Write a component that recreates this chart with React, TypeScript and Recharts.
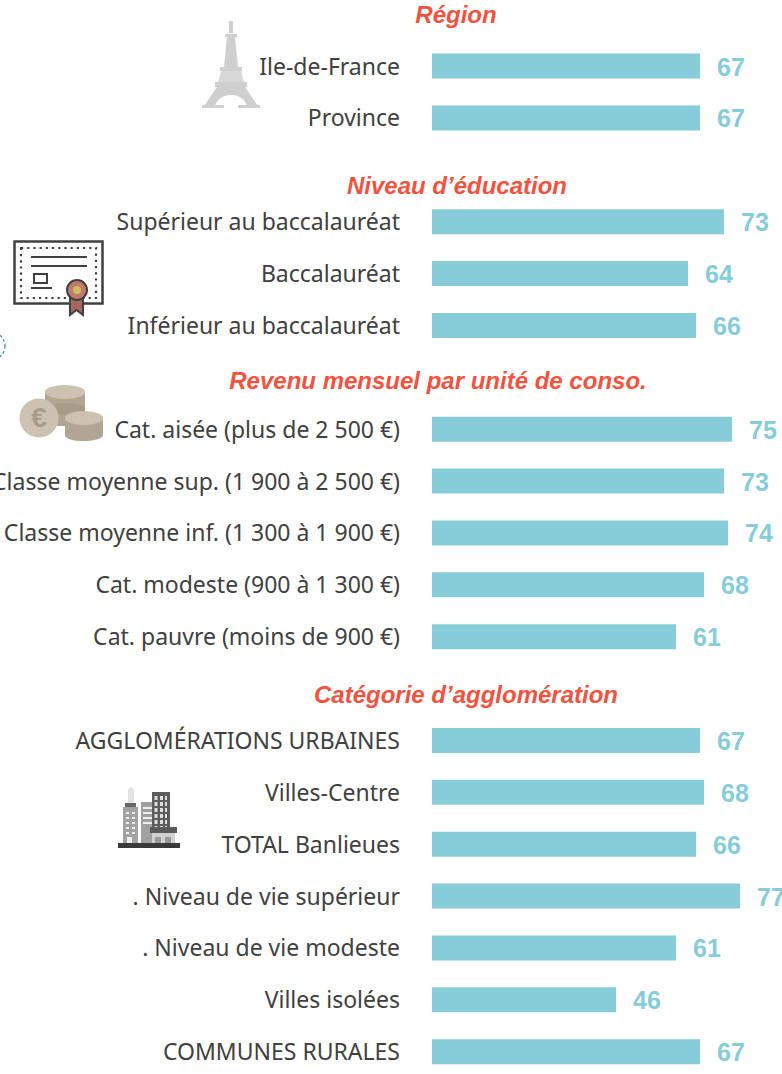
import React from 'react';
import { BarChart, Bar, XAxis, YAxis, LabelList } from 'recharts';

const categories = [
  'Ile-de-France', 'Province', ' ',
  'Supérieur au baccalauréat', 'Baccalauréat', 'Inférieur au baccalauréat', '  ',
  'Cat. aisée (plus de 2 500 €)', 'Classe moyenne sup. (1 900 à 2 500 €)', 'Classe moyenne inf. (1 300 à 1 900 €)', 'Cat. modeste (900 à 1 300 €)', 'Cat. pauvre (moins de 900 €)', '   ',
  'AGGLOMÉRATIONS URBAINES', 'Villes-Centre', 'TOTAL Banlieues', '. Niveau de vie supérieur', '. Niveau de vie modeste', 'Villes isolées', 'COMMUNES RURALES',
];
const values: (number | null)[] = [
  67, 67, null,
  73, 64, 66, null,
  75, 73, 74, 68, 61, null,
  67, 68, 66, 77, 61, 46, 67,
];
const sectionTitles = ['Région', 'Niveau d’éducation', 'Revenu mensuel par unité de conso.', 'Catégorie d’agglomération'];
const titleCenters = [456, 457, 438, 466];
const titleTops = [15, 186, 381, 695];

const rows = categories.map((name, i) => ({ name, value: values[i] }));

const BAR = '#87CCD9';

function ValueLabel(props: any) {
  const { x, y, width, height, value } = props;
  if (value === null || value === undefined) return null;
  return (
    <text x={x + width + 17} y={y + height / 2 + 9.5} fill={BAR} fontFamily="Liberation Sans" fontWeight={700} fontSize={25}>
      {value}
    </text>
  );
}

function Eiffel() {
  return (
    <svg style={{ position: 'absolute', left: 200, top: 18, width: 62, height: 92 }} viewBox="0 0 62 92">
      <g fill="#CFCFCF">
        <rect x="29" y="3" width="4" height="12" />
        <rect x="25" y="16" width="12" height="3" />
        <path d="M27 19 h8 l3 30 h-14 z" />
        <rect x="20" y="49" width="22" height="4" />
        <path d="M21 53 h20 l3 12 h-26 z" fill="#D8D8D8" />
        <rect x="15" y="64" width="32" height="5" />
        <path d="M17 69 h28 l13 19 h-11 c-2 -7 -8 -11 -16 -11 c-8 0 -14 4 -16 11 h-11 z" />
        <rect x="2" y="87" width="22" height="3" />
        <rect x="38" y="87" width="22" height="3" />
      </g>
    </svg>
  );
}

function Diploma() {
  return (
    <svg style={{ position: 'absolute', left: 12, top: 238, width: 94, height: 80 }} viewBox="0 0 94 80">
      <rect x="2.5" y="3.5" width="88" height="62" fill="#fff" stroke="#404040" strokeWidth={2.5} />
      <rect x="9" y="10" width="75" height="50" fill="none" stroke="#404040" strokeWidth={2.2} strokeDasharray="2.2 4" />
      <rect x="19" y="18" width="56" height="2" fill="#404040" />
      <rect x="19" y="27" width="56" height="2" fill="#404040" />
      <rect x="22" y="36" width="13" height="9" fill="#fff" stroke="#404040" strokeWidth={2} />
      <rect x="19" y="49" width="21" height="2" fill="#404040" />
      <path d="M58 52 h13 v25 l-6.5 -5 l-6.5 5 z" fill="#A6675E" stroke="#404040" strokeWidth={2} />
      <circle cx="65" cy="52" r="10" fill="#C07A6C" stroke="#404040" strokeWidth={2} />
      <circle cx="65" cy="52" r="4" fill="#D2BC63" />
    </svg>
  );
}

function Coins() {
  return (
    <svg style={{ position: 'absolute', left: 18, top: 382, width: 86, height: 60 }} viewBox="0 0 86 60">
      <path d="M27 10 v34 h40 v-34 z" fill="#B1A594" />
      <ellipse cx="47" cy="27" rx="20" ry="6" fill="#A89B89" />
      <ellipse cx="47" cy="10" rx="20" ry="7" fill="#CDC2B1" />
      <path d="M47 36 v17 c0 4 9 6 18 6 s20 -2 20 -6 v-17 z" fill="#B1A594" />
      <ellipse cx="66" cy="36" rx="19" ry="7" fill="#CDC2B1" />
      <circle cx="21" cy="36" r="19.5" fill="#CDC2B1" />
      <text x="21" y="45" textAnchor="middle" fontFamily="Liberation Sans" fontWeight={700} fontSize={28} fill="#A89B89">€</text>
    </svg>
  );
}

function Buildings() {
  return (
    <svg style={{ position: 'absolute', left: 116, top: 780, width: 66, height: 68 }} viewBox="0 0 66 68">
      <path d="M12 10 q3 -6 6 0 v14 h-6 z" fill="#E2E2E2" />
      <rect x="9" y="23" width="11" height="4" fill="#666" />
      <rect x="7" y="27" width="15" height="39" fill="#A2A2A2" />
      <rect x="25" y="22" width="17" height="44" fill="#A0A0A0" />
      <rect x="27" y="27" width="11" height="2" fill="#EEE" />
      <rect x="27" y="32" width="11" height="2" fill="#EEE" />
      <rect x="27" y="37" width="11" height="2" fill="#EEE" />
      <rect x="27" y="42" width="11" height="2" fill="#EEE" />
      <rect x="36" y="12" width="18" height="40" fill="#5C5C5C" />
      {[16, 22, 28, 34, 40, 46].map((y) => (
        <g key={y}>
          <rect x="38.5" y={y} width="3" height="4" fill="#DDD" />
          <rect x="44" y={y} width="3" height="4" fill="#DDD" />
          <rect x="49" y={y} width="2" height="4" fill="#DDD" />
        </g>
      ))}
      {[32, 37, 42, 47, 52].map((y) => (
        <g key={y}>
          <rect x="10" y={y} width="3" height="2" fill="#EEE" />
          <rect x="16" y={y} width="3" height="2" fill="#EEE" />
        </g>
      ))}
      <rect x="11" y="57" width="5" height="8" fill="#EEE" />
      <rect x="36" y="53" width="23" height="14" fill="#D0D0D0" />
      <rect x="34" y="47" width="27" height="6" fill="#5A5A5A" />
      <rect x="39" y="57" width="6" height="10" fill="#999" />
      <rect x="49" y="57" width="6" height="10" fill="#999" />
      <rect x="2" y="63" width="62" height="5" fill="#3A3A3A" />
    </svg>
  );
}

export default function App() {
  return (
    <div style={{ position: 'absolute', left: 0, top: 0, width: 782, height: 1074, overflow: 'hidden', background: '#fff' }}>
      <BarChart
        width={782}
        height={1078}
        data={rows}
        layout="vertical"
        margin={{ top: 40.5, right: 0, bottom: 0, left: 0 }}
      >
        <XAxis type="number" hide domain={[0, 87.5]} />
        <YAxis
          type="category"
          dataKey="name"
          width={432}
          interval={0}
          axisLine={false}
          tickLine={false}
          tickSize={0}
          tickMargin={32}
          tick={{ fill: '#404040', fontFamily: 'Noto Sans', fontSize: 23 }}
        />
        <Bar dataKey="value" fill={BAR} barSize={25} isAnimationActive={false}>
          <LabelList dataKey="value" content={ValueLabel} />
        </Bar>
      </BarChart>
      {sectionTitles.map((t, i) => (
        <div
          key={t}
          style={{
            position: 'absolute',
            left: titleCenters[i] - 300,
            width: 600,
            top: titleTops[i] - 15,
            textAlign: 'center',
            fontFamily: 'Liberation Sans',
            fontWeight: 700,
            fontStyle: 'italic',
            fontSize: 24,
            lineHeight: '30px',
            color: '#F25340',
          }}
        >
          {t}
        </div>
      ))}
      <Eiffel />
      <Diploma />
      <Coins />
      <Buildings />
      <svg style={{ position: 'absolute', left: 0, top: 325, width: 10, height: 45 }}>
        <circle cx={-9} cy={21} r={14} fill="none" stroke="#2E8CA8" strokeWidth={1.2} strokeDasharray="3 2" />
      </svg>
    </div>
  );
}
